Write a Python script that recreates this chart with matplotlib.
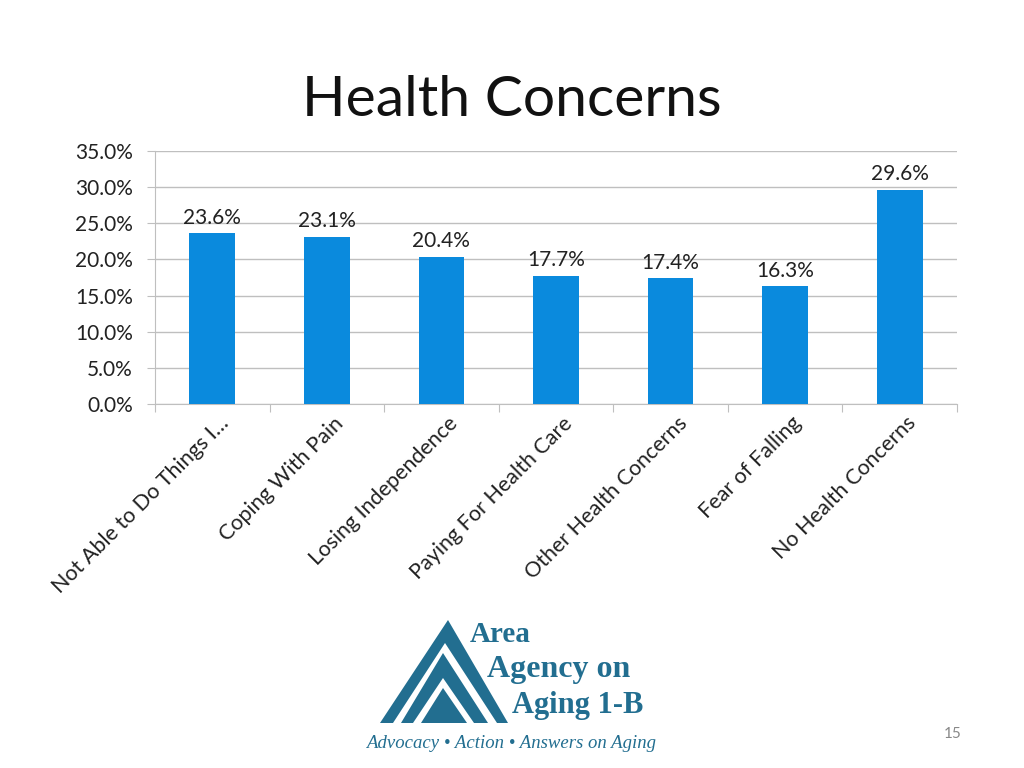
import numpy as np
import matplotlib
matplotlib.use("Agg")
import matplotlib.pyplot as plt
from matplotlib.patches import Polygon
from matplotlib.ticker import MultipleLocator, FuncFormatter

# ── data ─────────────────────────────────────────────
categories = ["Not Able to Do Things I\u2026", "Coping With Pain", "Losing Independence",
              "Paying For Health Care", "Other Health Concerns", "Fear of Falling",
              "No Health Concerns"]
values = [23.6, 23.1, 20.4, 17.7, 17.4, 16.3, 29.6]

BAR_COLOR = "#0A8ADD"
GRID_COLOR = "#BFBFBF"
LOGO_COLOR = "#226E90"
FONT = ["Lato", "DejaVu Sans"]

W, H = 1024, 768
fig = plt.figure(figsize=(W / 100, H / 100), dpi=100)

def fx(px):
    return px / W

def fy(py):
    return 1 - py / H

ax = fig.add_axes([fx(155), fy(404), fx(957) - fx(155), fy(151) - fy(404)])

x = np.arange(len(categories))
ax.bar(x, values, width=0.4, color=BAR_COLOR, zorder=3)

for xi, v in zip(x, values):
    ax.annotate(f"{v:.1f}%", (xi, v), xytext=(0, 4), textcoords="offset points",
                ha="center", va="bottom", fontsize=15, family=FONT, color="#222222")

# rotated category labels
for xi, cat in zip(x, categories):
    ax.annotate(cat, (xi, 0), xycoords=("data", "axes fraction"), xytext=(4.5, -6.5),
                textcoords="offset points", rotation=45, ha="right", va="top",
                rotation_mode="anchor", fontsize=15.5, family=FONT, color="#222222",
                annotation_clip=False)

ax.set_xlim(-0.5, len(categories) - 0.5)
ax.set_ylim(0, 35)
ax.yaxis.set_major_locator(MultipleLocator(5))
ax.yaxis.set_major_formatter(FuncFormatter(lambda v, p: f"{v:.1f}%"))
ax.grid(axis="y", color=GRID_COLOR, linewidth=1, zorder=0)

ax.set_xticks(np.arange(len(categories) + 1) - 0.5)
ax.set_xticklabels([])
ax.tick_params(axis="x", length=6, color=GRID_COLOR, direction="out")
ax.tick_params(axis="y", length=6, color=GRID_COLOR, labelsize=15, labelcolor="#222222", pad=10)
for lab in ax.get_yticklabels():
    lab.set_family(FONT)
for side in ["top", "right"]:
    ax.spines[side].set_visible(False)
ax.spines["left"].set_color(GRID_COLOR)
ax.spines["bottom"].set_color(GRID_COLOR)

fig.text(0.5, fy(101), "Health Concerns", ha="center", va="center",
         fontsize=41, family=FONT, color="#111111")

# ── logo ─────────────────────────────────────────────
base = 723
tris = [((380, base), (448, 620), (508, base), LOGO_COLOR),
        ((393, base), (445, 643), (497, base), "white"),
        ((401, base), (443, 653), (488, base), LOGO_COLOR),
        ((413, base), (443, 678), (474, base), "white"),
        ((421, base), (443, 688), (467, base), LOGO_COLOR)]
for a, b, c, col in tris:
    fig.patches.append(Polygon([(fx(a[0]), fy(a[1])), (fx(b[0]), fy(b[1])), (fx(c[0]), fy(c[1]))],
                               closed=True, transform=fig.transFigure, color=col, lw=0))

fig.text(fx(470), fy(634), "Area", ha="left", va="center", fontsize=21,
         family="Liberation Serif", weight="bold", color=LOGO_COLOR)
fig.text(fx(487), fy(670), "Agency on", ha="left", va="center", fontsize=23,
         family="Liberation Serif", weight="bold", color=LOGO_COLOR)
fig.text(fx(512), fy(706), "Aging 1-B", ha="left", va="center", fontsize=22,
         family="Liberation Serif", weight="bold", color=LOGO_COLOR)
fig.text(fx(511), fy(743), "Advocacy \u2022 Action \u2022 Answers on Aging", ha="center",
         va="center", fontsize=13.5, family="Liberation Serif", style="italic", color=LOGO_COLOR)

fig.text(fx(953), fy(734), "15", ha="center", va="center", fontsize=11,
         family=FONT, color="#888888")

fig.savefig("out.png", dpi=100)
